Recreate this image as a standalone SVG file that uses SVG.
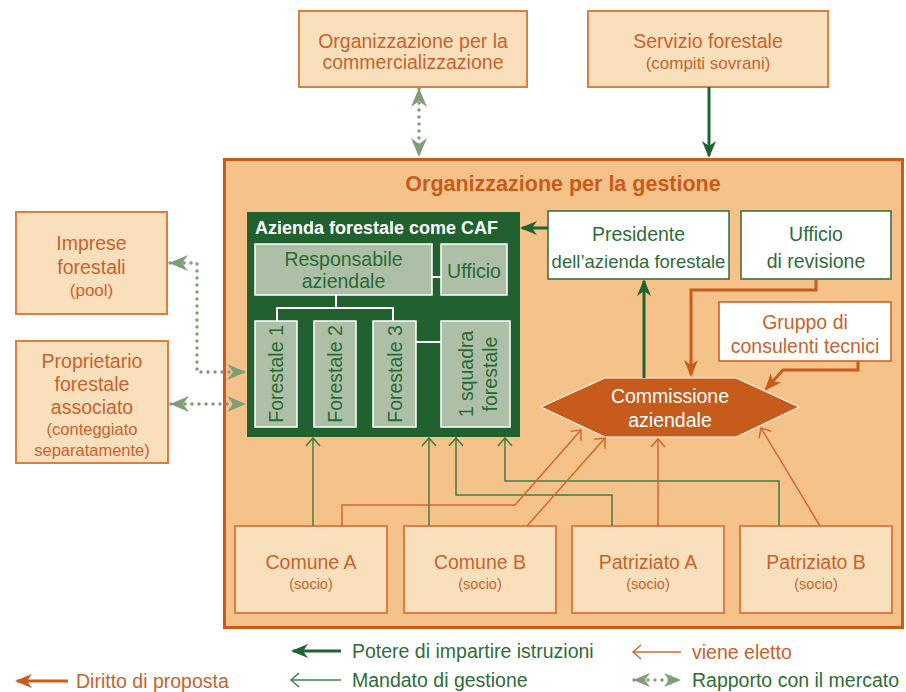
<svg xmlns="http://www.w3.org/2000/svg" width="906" height="692" viewBox="0 0 906 692">
<style>
text{font-family:"Liberation Sans",Arial,sans-serif;font-size:19.5px;text-anchor:middle}
.o{fill:#c9622c}
.g{fill:#2e6d37}
.w{fill:#fff}
.dg{fill:#2a6a36}
.sm{font-size:17px}
.xs{font-size:14.5px}
.lb{fill:#f9dfbb;stroke:#dc7d42;stroke-width:2}
.ib{fill:#adbfa6;stroke:#fff;stroke-width:1.5}
.gthick{fill:none;stroke:#1f6430;stroke-width:3}
.gthin{fill:none;stroke:#3f7c45;stroke-width:1.5}
.othick{fill:none;stroke:#c95b1b;stroke-width:3}
.othin{fill:none;stroke:#d0682e;stroke-width:1.5}
.dot{fill:none;stroke:#7f9e78;stroke-width:3.5;stroke-dasharray:0 7;stroke-linecap:round}
.wl{fill:none;stroke:#fff;stroke-width:2}
</style>
<defs>
<marker id="gF" markerUnits="userSpaceOnUse" orient="auto" refX="0" refY="0" markerWidth="20" markerHeight="20" overflow="visible"><path d="M2,0 L-15,-7 L-10,0 L-15,7 Z" fill="#1f6430"/></marker>
<marker id="oF" markerUnits="userSpaceOnUse" orient="auto" refX="0" refY="0" markerWidth="20" markerHeight="20" overflow="visible"><path d="M2,0 L-15,-7 L-10,0 L-15,7 Z" fill="#c95b1b"/></marker>
<marker id="gO" markerUnits="userSpaceOnUse" orient="auto" refX="0" refY="0" markerWidth="20" markerHeight="20" overflow="visible"><path d="M-8,-7 L0,0 L-8,7" fill="none" stroke="#3f7c45" stroke-width="1.5"/></marker>
<marker id="oO" markerUnits="userSpaceOnUse" orient="auto" refX="0" refY="0" markerWidth="20" markerHeight="20" overflow="visible"><path d="M-8,-7 L0,0 L-8,7" fill="none" stroke="#d0682e" stroke-width="1.5"/></marker>
<marker id="mk" markerUnits="userSpaceOnUse" orient="auto-start-reverse" refX="0" refY="0" markerWidth="20" markerHeight="20" overflow="visible"><path d="M1,0 L-18,-8 L-12,0 L-18,8 Z" fill="#7f9e78"/></marker>
<marker id="mks" markerUnits="userSpaceOnUse" orient="auto-start-reverse" refX="0" refY="0" markerWidth="20" markerHeight="20" overflow="visible"><path d="M1,0 L-16,-7 L-11,0 L-16,7 Z" fill="#7f9e78"/></marker>
</defs>

<g id="n-gestione">
<rect x="224.5" y="159.5" width="678" height="468" fill="#f5c389" stroke="#c95b1b" stroke-width="3"/>
<text x="563" y="191" style="font-weight:bold;font-size:21.5px" fill="#c95b1b">Organizzazione per la gestione</text>
</g>

<g id="n-comm">
<rect class="lb" x="299" y="11" width="228" height="76"/>
<text class="o" x="413" y="48">Organizzazione per la</text>
<text class="o" x="413" y="69">commercializzazione</text>
</g>

<g id="n-servizio">
<rect class="lb" x="588" y="11" width="240" height="76"/>
<text class="o" x="708" y="48">Servizio forestale</text>
<text class="o sm" x="708" y="69">(compiti sovrani)</text>
</g>

<g id="n-imprese">
<rect class="lb" x="16" y="212" width="151" height="102"/>
<text class="o" x="91.5" y="250">Imprese</text>
<text class="o" x="91.5" y="274">forestali</text>
<text class="o sm" x="91.5" y="296">(pool)</text>
</g>

<g id="n-proprietario">
<rect class="lb" x="16" y="341" width="152" height="122"/>
<text class="o" x="92" y="368">Proprietario</text>
<text class="o" x="92" y="391">forestale</text>
<text class="o" x="92" y="414">associato</text>
<text class="o" x="92" y="435" style="font-size:16.5px">(conteggiato</text>
<text class="o" x="92" y="456" style="font-size:16.5px">separatamente)</text>
</g>

<g id="n-caf">
<rect x="247" y="212" width="273" height="225" fill="#216130"/>
<text class="w" x="255" y="234" style="font-weight:bold;font-size:18px;text-anchor:start">Azienda forestale come CAF</text>
<path class="wl" d="M432,277 H441 M336,295 V308 M277,321 V308 H393 V321 M416,342 H441"/>
</g>

<g id="n-responsabile">
<rect class="ib" x="255" y="244" width="177" height="51"/>
<text class="dg" x="343.5" y="266">Responsabile</text>
<text class="dg" x="343.5" y="288">aziendale</text>
</g>

<g id="n-ufficio">
<rect class="ib" x="441" y="244" width="66" height="51"/>
<text class="dg" x="474" y="278">Ufficio</text>
</g>

<g id="n-forestale1">
<rect class="ib" x="255" y="321" width="42" height="106"/>
<text class="dg" transform="translate(276,374) rotate(-90)" x="0" y="7">Forestale 1</text>
</g>
<g id="n-forestale2">
<rect class="ib" x="314" y="321" width="42" height="106"/>
<text class="dg" transform="translate(335,374) rotate(-90)" x="0" y="7">Forestale 2</text>
</g>
<g id="n-forestale3">
<rect class="ib" x="373" y="321" width="43" height="106"/>
<text class="dg" transform="translate(394.5,374) rotate(-90)" x="0" y="7">Forestale 3</text>
</g>
<g id="n-squadra">
<rect class="ib" x="441" y="321" width="69" height="106"/>
<text class="dg" transform="translate(475.5,374) rotate(-90)" x="0" y="-3">1 squadra</text>
<text class="dg" transform="translate(475.5,374) rotate(-90)" x="0" y="21">forestale</text>
</g>

<g id="n-presidente">
<rect x="548" y="211" width="181" height="68" fill="#fff" stroke="#2e6d37" stroke-width="1.5"/>
<text class="g" x="638.5" y="241">Presidente</text>
<text class="g" x="638.5" y="268" style="font-size:18.5px">dell’azienda forestale</text>
</g>

<g id="n-revisione">
<rect x="741" y="211" width="150" height="68" fill="#fff" stroke="#2e6d37" stroke-width="1.5"/>
<text class="g" x="816" y="241">Ufficio</text>
<text class="g" x="816" y="268">di revisione</text>
</g>

<g id="n-gruppo">
<rect x="719" y="302" width="172" height="59" fill="#fff" stroke="#c95b1b" stroke-width="1.5"/>
<text class="o" x="805" y="329">Gruppo di</text>
<text class="o" x="805" y="353">consulenti tecnici</text>
</g>

<g id="n-commissione">
<polygon points="541,407 605,378 736,378 799,407 736,437 605,437" fill="#c65b1c" stroke="#fff" stroke-width="1"/>
<text class="w" x="670" y="403">Commissione</text>
<text class="w" x="670" y="427">aziendale</text>
</g>

<g id="n-comuneA">
<rect class="lb" x="235" y="526" width="152" height="87"/>
<text class="o" x="311" y="569">Comune A</text>
<text class="o xs" x="311" y="589">(socio)</text>
</g>
<g id="n-comuneB">
<rect class="lb" x="404" y="526" width="152" height="87"/>
<text class="o" x="480" y="569">Comune B</text>
<text class="o xs" x="480" y="589">(socio)</text>
</g>
<g id="n-patriziatoA">
<rect class="lb" x="572" y="526" width="152" height="87"/>
<text class="o" x="648" y="569">Patriziato A</text>
<text class="o xs" x="648" y="589">(socio)</text>
</g>
<g id="n-patriziatoB">
<rect class="lb" x="740" y="526" width="152" height="87"/>
<text class="o" x="816" y="569">Patriziato B</text>
<text class="o xs" x="816" y="589">(socio)</text>
</g>

<g id="connectors">
<path class="dot" d="M419,89 V156" marker-start="url(#mk)" marker-end="url(#mk)"/>
<path class="dot" d="M170,263 H197 V372 H245" marker-start="url(#mk)" marker-end="url(#mk)"/>
<path class="dot" d="M171,404 H245" marker-start="url(#mk)" marker-end="url(#mk)"/>
<path class="gthick" d="M709,87 V156" marker-end="url(#gF)"/>
<path class="gthick" d="M548,228 H522" marker-end="url(#gF)"/>
<path class="gthick" d="M644,378 V281" marker-end="url(#gF)"/>
<path class="othick" d="M816,279 V290 H691 V375" marker-end="url(#oF)"/>
<path class="othick" d="M858,361 V370 H783 L766,389" marker-end="url(#oF)"/>
<path class="gthin" d="M313,526 V438" marker-end="url(#gO)"/>
<path class="gthin" d="M429,526 V438" marker-end="url(#gO)"/>
<path class="gthin" d="M612,526 V495 H456 V438" marker-end="url(#gO)"/>
<path class="gthin" d="M779,526 V481 H505 V438" marker-end="url(#gO)"/>
<path class="othin" d="M342,526 V505 H515 L581,430" marker-end="url(#oO)"/>
<path class="othin" d="M527,526 L605,438" marker-end="url(#oO)"/>
<path class="othin" d="M658,526 V439" marker-end="url(#oO)"/>
<path class="othin" d="M820,526 L761,428" marker-end="url(#oO)"/>
</g>

<g id="legend">
<path class="gthick" d="M341,651 H293" marker-end="url(#gF)"/>
<text class="g" x="352" y="658" style="text-anchor:start">Potere di impartire istruzioni</text>
<path class="othin" d="M681,652 H633" marker-end="url(#oO)"/>
<text class="o" x="692" y="659" style="text-anchor:start">viene eletto</text>
<path class="othick" d="M68,681 H17" marker-end="url(#oF)"/>
<text class="o" x="76" y="688" style="text-anchor:start">Diritto di proposta</text>
<path class="gthin" d="M341,680 H291" marker-end="url(#gO)"/>
<text class="g" x="352" y="687" style="text-anchor:start">Mandato di gestione</text>
<path class="dot" d="M634,680 H680" marker-start="url(#mks)" marker-end="url(#mks)"/>
<text class="g" x="692" y="687" style="text-anchor:start">Rapporto con il mercato</text>
</g>
</svg>
